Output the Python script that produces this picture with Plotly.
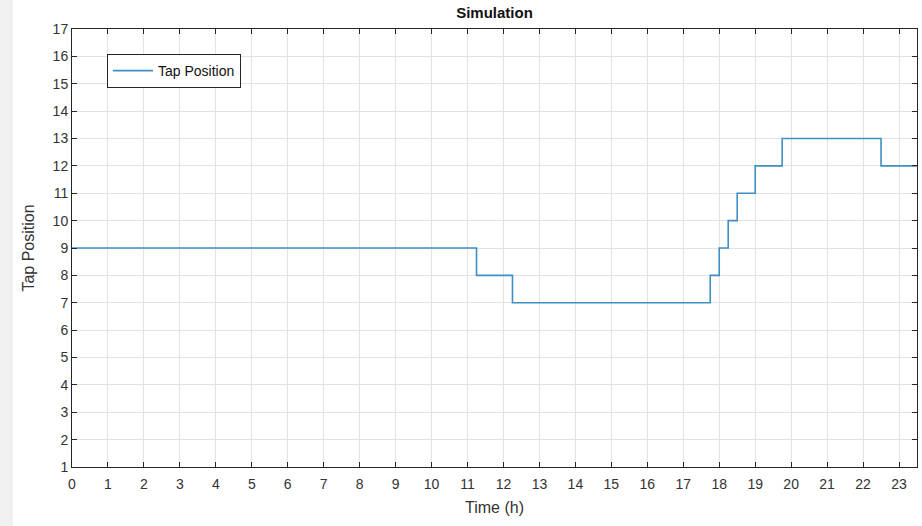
import plotly.graph_objects as go

time_h = [0, 11.25, 12.25, 17.75, 18, 18.25, 18.5, 19, 19.75, 22.5, 23.5]
tap_pos = [9, 8, 7, 8, 9, 10, 11, 12, 13, 12, 12]
x_ticks = list(range(0, 24))
y_ticks = list(range(1, 18))

W, H = 922, 526
L, R, T, B = 72, 5, 29, 59
pw = W - L - R

fig = go.Figure()
fig.add_trace(go.Scatter(
    x=time_h, y=tap_pos, mode="lines", line_shape="hv",
    line=dict(color="#3f8fc4", width=1.6), name="Tap Position"))

axis_common = dict(
    showline=True, linecolor="#262626", linewidth=1, mirror="ticks",
    ticks="inside", ticklen=5, tickcolor="#262626", tickwidth=1,
    showgrid=True, gridcolor="#e3e3e3", gridwidth=1, zeroline=False,
    tickfont=dict(family="Liberation Sans, Arial", size=14, color="#333"),
)

fig.update_layout(
    width=W, height=H,
    margin=dict(l=L, r=R, t=T, b=B),
    paper_bgcolor="white", plot_bgcolor="white",
    title=dict(text="<b>Simulation</b>", x=(L + pw / 2) / W, xanchor="center",
               y=1 - 13 / H, yanchor="middle",
               font=dict(family="Liberation Sans, Arial", size=15, color="#111")),
    xaxis=dict(range=[0, 23.5], tickvals=x_ticks, ticklabelstandoff=4,
               title=dict(text="Time (h)", standoff=11,
                          font=dict(family="Liberation Sans, Arial", size=16, color="#333")),
               **axis_common),
    yaxis=dict(range=[1, 17], tickvals=y_ticks,
               title=dict(text="Tap Position", standoff=14,
                          font=dict(family="Liberation Sans, Arial", size=16, color="#333")),
               **axis_common),
    showlegend=True,
    legend=dict(x=(107 - L) / pw, y=1 - (54 - T) / (H - T - B), xanchor="left", yanchor="top",
                bgcolor="white", bordercolor="#262626", borderwidth=1,
                font=dict(family="Liberation Sans, Arial", size=14, color="#111"),
                itemwidth=40, tracegroupgap=0),
    shapes=[dict(type="rect", xref="paper", yref="paper",
                 x0=(0 - L) / pw, x1=(13 - L) / pw, y0=-B / (H - T - B), y1=1 + T / (H - T - B),
                 fillcolor="#f0f0f0", line=dict(width=0), layer="below")],
)

fig.write_html("out.html")
